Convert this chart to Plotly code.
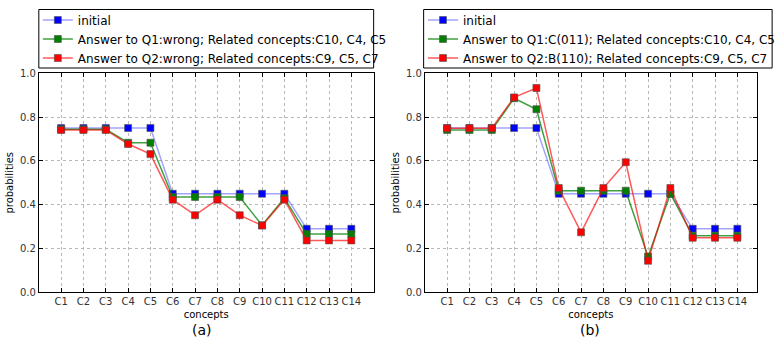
import plotly.graph_objects as go

concepts = ["C1", "C2", "C3", "C4", "C5", "C6", "C7", "C8", "C9", "C10", "C11", "C12", "C13", "C14"]
xpos = list(range(1, 15))

# panel (a)
a_initial = [0.75, 0.75, 0.75, 0.75, 0.75, 0.45, 0.45, 0.45, 0.45, 0.45, 0.45, 0.29, 0.29, 0.29]
a_q1 = [0.745, 0.745, 0.745, 0.683, 0.683, 0.435, 0.435, 0.435, 0.435, 0.306, 0.43, 0.266, 0.266, 0.266]
a_q2 = [0.741, 0.741, 0.741, 0.677, 0.631, 0.423, 0.352, 0.423, 0.352, 0.305, 0.423, 0.237, 0.237, 0.237]

# panel (b)
b_initial = [0.75, 0.75, 0.75, 0.75, 0.75, 0.45, 0.45, 0.45, 0.45, 0.45, 0.45, 0.29, 0.29, 0.29]
b_q1 = [0.741, 0.741, 0.741, 0.886, 0.836, 0.464, 0.464, 0.464, 0.464, 0.163, 0.45, 0.258, 0.258, 0.258]
b_q2 = [0.749, 0.749, 0.749, 0.890, 0.933, 0.476, 0.274, 0.476, 0.594, 0.144, 0.476, 0.249, 0.249, 0.249]

names_a = ["initial",
           "Answer to Q1:wrong; Related concepts:C10, C4, C5",
           "Answer to Q2:wrong; Related concepts:C9, C5, C7"]
names_b = ["initial",
           "Answer to Q1:C(011); Related concepts:C10, C4, C5",
           "Answer to Q2:B(110); Related concepts:C9, C5, C7"]

yticks = [0.0, 0.2, 0.4, 0.6, 0.8, 1.0]
ytick_text = ["0.0", "0.2", "0.4", "0.6", "0.8", "1.0"]

line_cols = ["rgba(90,90,255,0.55)", "rgba(0,128,0,0.75)", "rgba(255,0,0,0.65)"]
mark_cols = ["#0000ff", "#008000", "#ff0000"]

W, H = 780, 339
fig = go.Figure()

panels = [
    ("x", "y", "legend", [a_initial, a_q1, a_q2], names_a),
    ("x2", "y2", "legend2", [b_initial, b_q1, b_q2], names_b),
]
for xa, ya, lg, series, names in panels:
    for vals, nm, lc, mc in zip(series, names, line_cols, mark_cols):
        fig.add_trace(go.Scatter(
            x=xpos, y=vals, name=nm, mode="lines+markers",
            xaxis=xa, yaxis=ya, legend=lg,
            line=dict(color=lc, width=1.5),
            marker=dict(symbol="square", size=7, color=mc,
                        line=dict(color="rgba(80,80,80,0.6)", width=1)),
        ))

top, bot = 73.3, 292.3
ydom = [1 - bot / H, 1 - top / H]
xdom1 = [40 / W, 385 / W]
xdom2 = [437.7 / W, 1.0]

axis_common = dict(
    showline=True, linecolor="black", linewidth=1, mirror="ticks",
    ticks="inside", ticklen=4, tickcolor="black", automargin=False,
    showgrid=True, gridcolor="#b8b8b8", griddash="dot", gridwidth=1,
    zeroline=False, tickfont=dict(family="DejaVu Sans", size=10, color="#333333"),
)

fig.update_layout(
    width=W, height=H, autosize=False,
    margin=dict(l=0, r=0, t=0, b=0, pad=0),
    paper_bgcolor="white", plot_bgcolor="white",
    font=dict(family="DejaVu Sans", color="black"),
    showlegend=True,
    xaxis=dict(domain=xdom1, range=[0, 15], tickvals=xpos, ticktext=concepts,
               anchor="y", title=dict(text="concepts", font=dict(size=10), standoff=4), **axis_common),
    yaxis=dict(domain=ydom, range=[0, 1], tickvals=yticks, ticktext=ytick_text,
               anchor="x", title=dict(text="probabilities", font=dict(size=10), standoff=4), **axis_common),
    xaxis2=dict(domain=xdom2, range=[0, 14.88], tickvals=xpos, ticktext=concepts,
                anchor="y2", title=dict(text="concepts", font=dict(size=10), standoff=4), **axis_common),
    yaxis2=dict(domain=ydom, range=[0, 1], tickvals=yticks, ticktext=ytick_text,
                anchor="x2", title=dict(text="probabilities", font=dict(size=10), standoff=4), **axis_common),
    legend=dict(x=39 / W, y=1 - 5.5 / H, xanchor="left", yanchor="top",
                bgcolor="rgba(0,0,0,0)", borderwidth=0,
                font=dict(family="DejaVu Sans", size=12, color="black")),
    legend2=dict(x=436 / W, y=1 - 5.5 / H, xanchor="left", yanchor="top",
                 bgcolor="rgba(0,0,0,0)", borderwidth=0,
                 font=dict(family="DejaVu Sans", size=12, color="black")),
    shapes=[
        dict(type="rect", xref="paper", yref="paper", x0=40 / W, x1=385 / W,
             y0=1 - 68 / H, y1=1 - 9.5 / H, line=dict(color="black", width=1),
             fillcolor="white", layer="below"),
        dict(type="rect", xref="paper", yref="paper", x0=436.5 / W, x1=1.02,
             y0=1 - 68 / H, y1=1 - 9.5 / H, line=dict(color="black", width=1),
             fillcolor="white", layer="below"),
    ],
    annotations=[
        dict(text="(a)", x=208 / W, y=1 - 330 / H, xref="paper", yref="paper",
             xanchor="center", yanchor="middle",
             showarrow=False, font=dict(size=14, family="DejaVu Sans")),
        dict(text="(b)", x=608 / W, y=1 - 330 / H, xref="paper", yref="paper",
             xanchor="center", yanchor="middle",
             showarrow=False, font=dict(size=14, family="DejaVu Sans")),
    ],
)

fig.write_html("out.html")
